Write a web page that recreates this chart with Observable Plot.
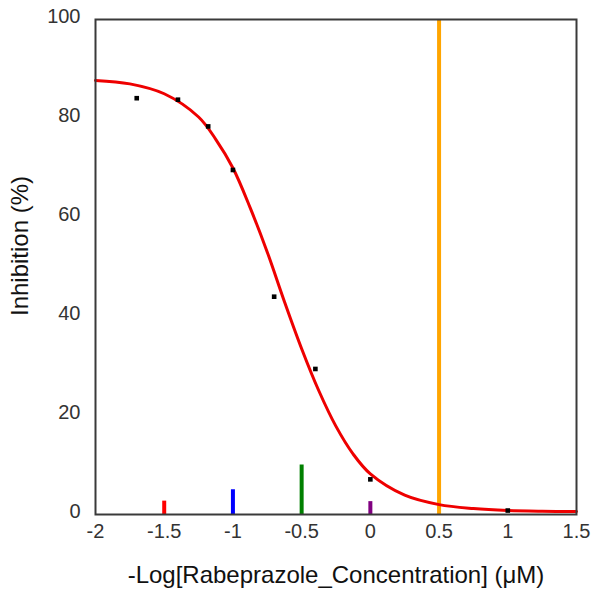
<!DOCTYPE html>
<html>
<head>
<meta charset="utf-8">
<script src="https://cdn.jsdelivr.net/npm/d3@7"></script>
<script src="https://cdn.jsdelivr.net/npm/@observablehq/plot@0.6"></script>
<style>
  html, body { margin: 0; padding: 0; background: #fff; }
</style>
</head>
<body>
<div id="chart"></div>
<script>
const pointX = [-1.70, -1.40, -1.18, -1.00, -0.70, -0.40, 0.00, 1.00];
const pointY = [84.1, 83.8, 78.4, 69.6, 44.0, 29.4, 7.1, 0.8];
const curveX = [-2.0, -1.75, -1.5, -1.25, -1.125, -1.0, -0.875, -0.75, -0.625, -0.5, -0.375, -0.25, -0.125, 0.0, 0.25, 0.5, 0.75, 1.0, 1.25, 1.5];
const curveY = [87.7, 87.0, 85.0, 80.3, 75.8, 70.0, 62.0, 53.0, 43.0, 33.5, 25.0, 17.8, 12.2, 8.2, 3.9, 2.0, 1.2, 0.8, 0.65, 0.6];
const xTickLabels = [-2, -1.5, -1, -0.5, 0, 0.5, 1, 1.5];
const xInnerTicks = [-1.5, -1, -0.5, 0, 0.5, 1];
const yTickLabels = [0, 20, 40, 60, 80, 100];
const xTitle = "-Log[Rabeprazole_Concentration] (μM)";
const yTitle = "Inhibition (%)";

const points = pointX.map((x, i) => ({x, y: pointY[i]}));
const curve = curveX.map((x, i) => ({x, y: curveY[i]}));
const textColor = "#333";

const chart = Plot.plot({
  width: 600, height: 590,
  marginLeft: 95, marginRight: 24, marginTop: 19, marginBottom: 76,
  style: {fontFamily: "'Liberation Sans', Arial, sans-serif", background: "#fff", color: textColor},
  x: {domain: [-2, 1.5]},
  y: {domain: [0, 100]},
  marks: [
    Plot.ruleX([-1.5], {y1: 0, y2: 2.7, stroke: "red", strokeWidth: 4}),
    Plot.ruleX([-1], {y1: 0, y2: 5, stroke: "blue", strokeWidth: 4}),
    Plot.ruleX([-0.5], {y1: 0, y2: 10, stroke: "green", strokeWidth: 4}),
    Plot.link([0], {x1: d => d, x2: d => d, y1: 0, y2: 2.7, stroke: "purple", strokeWidth: 4}),
    Plot.tickX([0.5], {stroke: "orange", strokeWidth: 4}),
    Plot.line(curve, {x: "x", y: "y", stroke: "#ee0000", strokeWidth: 3, curve: "catmull-rom"}),
    Plot.dot(points, {x: "x", y: "y", symbol: "square", r: 2.6, fill: "#000", stroke: "none"}),
    Plot.axisX(xTickLabels, {anchor: "bottom", tickSize: 0, tickPadding: 9, label: null, fontSize: 20, fill: textColor, tickFormat: d => String(d)}),
    Plot.axisY(yTickLabels, {anchor: "left", tickSize: 0, tickPadding: 15, label: null, fontSize: 20, fill: textColor, dy: -3}),
    Plot.frame({stroke: "#3a3a3a", strokeWidth: 2}),
    Plot.text([xTitle], {frameAnchor: "bottom", dy: 68, fontSize: 24, fill: "#111"}),
    Plot.text([yTitle], {frameAnchor: "left", textAnchor: "middle", dx: -75, dy: -21, rotate: -90, fontSize: 24, fill: "#111"})
  ]
});
document.getElementById("chart").appendChild(chart);
</script>
</body>
</html>
